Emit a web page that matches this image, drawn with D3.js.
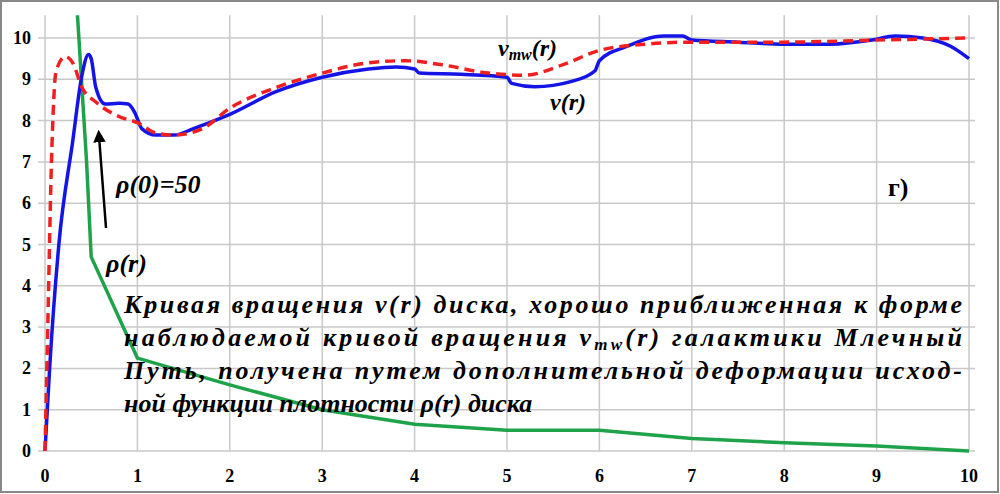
<!DOCTYPE html>
<html><head><meta charset="utf-8">
<script src="https://cdn.jsdelivr.net/npm/d3@7"></script>
</head><body style="margin:0">
<svg id="c" width="1000" height="494"></svg>
<script>
var xTicks = [0,1,2,3,4,5,6,7,8,9,10];
var yTicks = [0,1,2,3,4,5,6,7,8,9,10];
var vR = [[0,0],[0.05,2],[0.15,5],[0.3,7.5],[0.4,9.1],[0.47,9.6],[0.5,9.5],[0.55,8.8],[0.65,8.4],[0.8,8.42],[0.9,8.4],[0.97,8.2],[1.05,7.8],[1.2,7.65],[1.4,7.65],[1.6,7.8],[2,8.15],[2.5,8.7],[3,9.05],[3.5,9.25],[3.8,9.3],[4,9.25],[4.05,9.15],[4.5,9.12],[5,9.05],[5.05,8.9],[5.3,8.82],[5.7,8.95],[5.95,9.2],[6,9.45],[6.3,9.8],[6.7,10.05],[6.9,10.05],[7,9.95],[7.5,9.9],[8,9.85],[8.5,9.85],[8.95,9.95],[9.2,10.05],[9.5,10.0],[9.8,9.8],[10,9.5]];
var vMW = [[0,0],[0.03,3],[0.07,7],[0.12,9.2],[0.22,9.55],[0.3,9.4],[0.4,8.8],[0.55,8.45],[0.8,8.1],[1.0,7.95],[1.2,7.7],[1.4,7.65],[1.7,7.8],[2,8.3],[2.5,8.8],[3,9.15],[3.5,9.4],[3.9,9.45],[4.3,9.35],[4.8,9.15],[5.2,9.1],[5.6,9.35],[6,9.7],[6.5,9.85],[7,9.9],[8,9.9],[9,9.95],[10,10]];
var rho = [[0.35,10.6],[0.45,7],[0.5,4.7],[1,2.25],[2,1.6],[3,1.0],[4,0.65],[5,0.5],[6,0.5],[7,0.3],[8,0.2],[9,0.12],[10,0]];

var svg = d3.select('#c');
svg.append('rect').attr('x',1).attr('y',1).attr('width',997).attr('height',491).attr('fill','none').attr('stroke','#888').attr('stroke-width',2);

var x = d3.scaleLinear().domain([0,10]).range([45,969]);
var y = d3.scaleLinear().domain([0,10]).range([451,38]);
var plotTop = y(10.55);

var g = svg.append('g');
g.selectAll('.vx').data(xTicks).enter().append('line')
  .attr('x1',function(d){return x(d);}).attr('x2',function(d){return x(d);})
  .attr('y1',plotTop).attr('y2',451).attr('stroke','#c8c8c8').attr('stroke-width',1.5);
g.selectAll('.hy').data(yTicks).enter().append('line')
  .attr('x1',38).attr('x2',975)
  .attr('y1',function(d){return y(d);}).attr('y2',function(d){return y(d);})
  .attr('stroke','#c8c8c8').attr('stroke-width',1.5);

svg.selectAll('.xl').data(xTicks).enter().append('text')
  .attr('x',function(d){return x(d);}).attr('y',482).attr('text-anchor','middle')
  .attr('font-size',18).attr('font-weight','bold').text(function(d){return d;});
svg.selectAll('.yl').data(yTicks).enter().append('text')
  .attr('x',31).attr('y',function(d){return y(d)+6;}).attr('text-anchor','end')
  .attr('font-size',18).attr('font-weight','bold').text(function(d){return d;});

svg.append('clipPath').attr('id','cp').append('rect')
  .attr('x',40).attr('y',plotTop).attr('width',940).attr('height',451-plotTop+3);

var line = d3.line().x(function(d){return x(d[0]);}).y(function(d){return y(d[1]);});
var plot = svg.append('g').attr('clip-path','url(#cp)');
plot.append('path').datum(rho).attr('d',line.curve(d3.curveLinear)).attr('fill','none').attr('stroke','#1fa34a').attr('stroke-width',3.5);
plot.append('path').datum(vR).attr('d',line.curve(d3.curveMonotoneX)).attr('fill','none').attr('stroke','#1414e6').attr('stroke-width',3.5);
plot.append('path').datum(vMW).attr('d',line.curve(d3.curveMonotoneX)).attr('fill','none').attr('stroke','#f02020').attr('stroke-width',3.5).attr('stroke-dasharray','10,6');

svg.append('defs').append('marker').attr('id','ah').attr('viewBox','0 0 10 10').attr('refX',5).attr('refY',5)
  .attr('markerWidth',5).attr('markerHeight',5).attr('orient','auto')
  .append('path').attr('d','M0,0L10,5L0,10z').attr('fill','#000');
svg.append('line').attr('x1',106).attr('y1',228).attr('x2',99).attr('y2',136)
  .attr('stroke','#000').attr('stroke-width',2.5).attr('marker-end','url(#ah)');

function lbl(xp,yp,s,size){ return svg.append('text').attr('x',xp).attr('y',yp).attr('font-size',size||24).attr('font-weight','bold').attr('font-style','italic').text(s); }
lbl(116,193,'ρ(0)=50',26);
lbl(106,272,'ρ(r)',26);
var t = lbl(498,56,'v',24); t.append('tspan').attr('font-size',16).attr('dy',4).text('mw'); t.append('tspan').attr('dy',-4).text('(r)');
lbl(550,110,'v(r)',24);
svg.append('text').attr('x',888).attr('y',196).attr('font-size',26).attr('font-weight','bold').text('г)');

var paraY = [313,346,379,412];
var para = ['Кривая вращения v(r) диска, хорошо приближенная к форме', null,
  'Путь, получена путем дополнительной деформации исход-', 'ной функции плотности ρ(r) диска'];
para.forEach(function(p,i){
  var tt = svg.append('text').attr('x',124).attr('y',paraY[i]).attr('font-size',26).attr('font-style','italic').attr('font-weight','bold');
  if(i==1){
    tt.append('tspan').text('наблюдаемой кривой вращения v');
    tt.append('tspan').attr('font-size',17).attr('dy',4).text('mw');
    tt.append('tspan').attr('dy',-4).text('(r) галактики Млечный');
  } else tt.text(p);
  if(i<3) tt.attr('textLength',962-124).attr('lengthAdjust','spacing');
});
svg.selectAll('text').attr('font-family','Liberation Serif').style('font-family',"'Liberation Serif', serif");
</script>
</body></html>
